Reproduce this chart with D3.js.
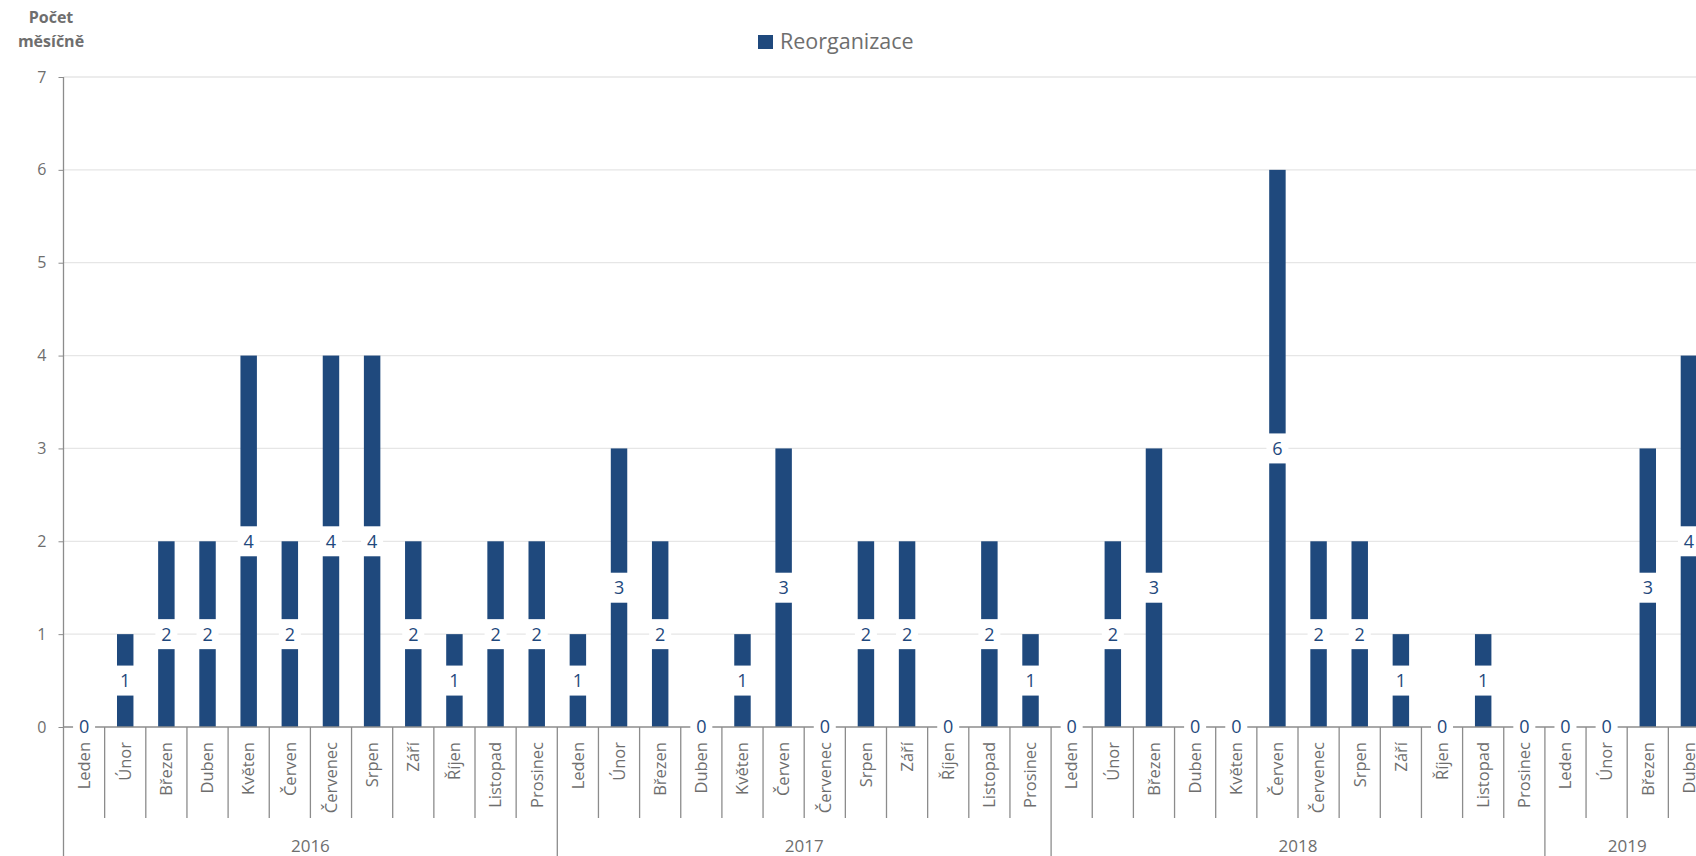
<!DOCTYPE html>
<html>
<head>
<meta charset="utf-8">
<script src="https://cdn.jsdelivr.net/npm/d3@7"></script>
<style>
  body { margin: 0; background: #fff; overflow: hidden; }
  text { font-family: "Open Sans", sans-serif; }
</style>
</head>
<body>
<script>
// data
const years = ['2016', '2017', '2018', '2019']
const monthNames = ['Leden', 'Únor', 'Březen', 'Duben', 'Květen', 'Červen', 'Červenec',
  'Srpen', 'Září', 'Říjen', 'Listopad', 'Prosinec']
const values2016 = [0, 1, 2, 2, 4, 2, 4, 4, 2, 1, 2, 2]
const values2017 = [1, 3, 2, 0, 1, 3, 0, 2, 2, 0, 2, 1]
const values2018 = [0, 2, 3, 0, 0, 6, 2, 2, 1, 0, 1, 0]
const values2019 = [0, 0, 3, 4]
const yTicks = [0, 1, 2, 3, 4, 5, 6, 7]
const seriesName = 'Reorganizace'
const yTitle = ['Počet', 'měsíčně']

const data = []
;[values2016, values2017, values2018, values2019].forEach((vals, yi) => {
  vals.forEach((v, mi) => {
    data.push({ key: years[yi] + '-' + mi, year: years[yi], month: monthNames[mi], value: v })
  })
})

const W = 1696, H = 856
const left = 63.5, baseY = 727, topY = 77
const band = 41.15
const barColor = '#1f497d'
const textColor = '#6e6e6e'
const lineColor = '#8c8c8c'

const svg = d3.select('body').append('svg')
  .attr('width', W)
  .attr('height', H)

const x = d3.scaleBand()
  .domain(data.map(d => d.key))
  .range([left, left + band * data.length])
  .paddingInner(0.6)
  .paddingOuter(0.3)

const y = d3.scaleLinear().domain([0, 7]).range([baseY, topY])

// gridlines
svg.append('g').selectAll('line.grid')
  .data(yTicks.filter(t => t > 0))
  .enter().append('line')
    .attr('x1', left).attr('x2', W)
    .attr('y1', d => y(d)).attr('y2', d => y(d))
    .attr('stroke', '#e6e6e6').attr('stroke-width', 1.3)

// y axis
const yAxis = svg.append('g')
  .attr('transform', `translate(${left},0)`)
  .call(d3.axisLeft(y).tickValues(yTicks).tickSize(5).tickPadding(12).tickFormat(d3.format('d')))
yAxis.select('.domain').remove()
yAxis.selectAll('line').attr('stroke', lineColor)
yAxis.selectAll('text').attr('fill', textColor).style('font-size', '16px')
  .style('font-family', '"Open Sans", sans-serif')

svg.append('line')
  .attr('x1', left).attr('x2', left)
  .attr('y1', topY).attr('y2', H)
  .attr('stroke', lineColor).attr('stroke-width', 1.3)

// bars
svg.append('g').selectAll('rect.bar')
  .data(data)
  .enter().append('rect')
    .attr('class', 'bar')
    .attr('x', d => x(d.key))
    .attr('width', x.bandwidth())
    .attr('y', d => y(d.value))
    .attr('height', d => baseY - y(d.value))
    .attr('fill', barColor)

// x axis baseline
svg.append('line')
  .attr('x1', left).attr('x2', W)
  .attr('y1', baseY).attr('y2', baseY)
  .attr('stroke', lineColor).attr('stroke-width', 1.3)

// month separators
const step = x.step()
svg.append('g').selectAll('line.sep')
  .data(data)
  .enter().append('line')
    .attr('x1', (d, i) => left + step * (i + 1))
    .attr('x2', (d, i) => left + step * (i + 1))
    .attr('y1', baseY)
    .attr('y2', (d, i) => (i + 1) % 12 === 0 || i === data.length - 1 ? H : 818)
    .attr('stroke', lineColor).attr('stroke-width', 1.3)

// month labels
svg.append('g').selectAll('text.month')
  .data(data)
  .enter().append('text')
    .attr('transform', d => `translate(${x(d.key) + x.bandwidth() / 2},742) rotate(-90)`)
    .attr('text-anchor', 'end')
    .attr('dy', '0.35em')
    .attr('fill', textColor)
    .style('font-size', '16.5px')
    .text(d => d.month)

// year labels
svg.append('g').selectAll('text.year')
  .data(years)
  .enter().append('text')
    .attr('x', yr => {
      const ks = data.filter(d => d.year === yr)
      return (x(ks[0].key) + x(ks[ks.length - 1].key) + x.bandwidth()) / 2
    })
    .attr('y', 852)
    .attr('text-anchor', 'middle')
    .attr('fill', textColor)
    .style('font-size', '17px')
    .text(yr => yr)

// data labels
const labels = svg.append('g').selectAll('g.lbl')
  .data(data)
  .enter().append('g')
    .attr('transform', d => `translate(${x(d.key) + x.bandwidth() / 2},${y(d.value / 2)})`)
labels.append('rect')
  .attr('x', -11).attr('y', -15)
  .attr('width', 22).attr('height', 30)
  .attr('fill', '#fff')
labels.append('text')
  .attr('text-anchor', 'middle')
  .attr('dy', '0.36em')
  .attr('fill', barColor)
  .style('font-size', '18px')
  .text(d => d.value)

// legend
svg.append('rect')
  .attr('x', 758).attr('y', 35)
  .attr('width', 15).attr('height', 14)
  .attr('fill', barColor)
svg.append('text')
  .attr('x', 780).attr('y', 49)
  .attr('fill', textColor)
  .style('font-size', '21.5px')
  .text(seriesName)

// y title
svg.append('g').selectAll('text.ytitle')
  .data(yTitle)
  .enter().append('text')
    .attr('x', 51)
    .attr('y', (d, i) => 23 + i * 24)
    .attr('text-anchor', 'middle')
    .attr('fill', textColor)
    .style('font-size', '16px')
    .style('font-weight', 'bold')
    .text(d => d)
</script>
</body>
</html>
